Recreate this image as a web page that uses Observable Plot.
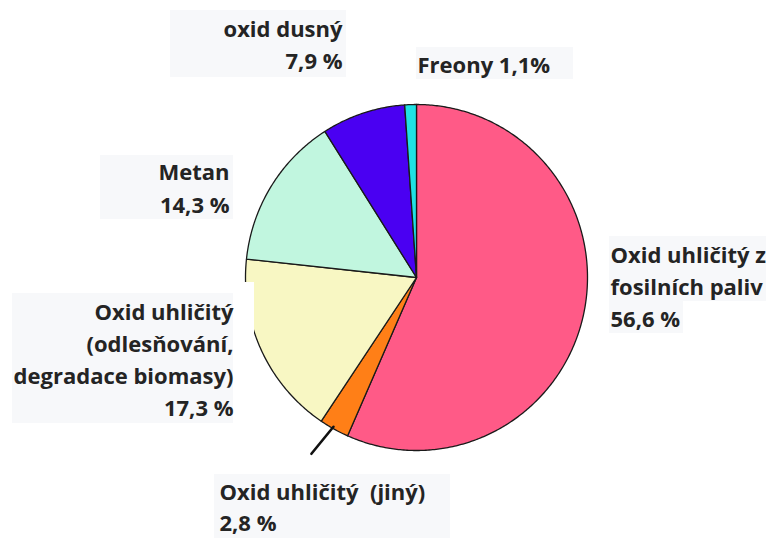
<!DOCTYPE html>
<html>
<head>
<meta charset="utf-8">
<script src="https://cdn.jsdelivr.net/npm/d3@7"></script>
<script src="https://cdn.jsdelivr.net/npm/@observablehq/plot@0.6"></script>
<style>
  html, body { margin: 0; padding: 0; background: #ffffff; }
  #chart svg { display: block; }
</style>
</head>
<body>
<div id="chart"></div>
<script>
// ---- data ----
const categories = [
  "Oxid uhličitý z fosilních paliv",
  "Oxid uhličitý (jiný)",
  "Oxid uhličitý (odlesňování, degradace biomasy)",
  "Metan",
  "oxid dusný",
  "Freony"
];
const shares = [56.6, 2.8, 17.3, 14.3, 7.9, 1.1];
const sliceColors = ["#ff5a87", "#ff7f17", "#f8f7c3", "#c1f6df", "#4a00f2", "#1fe2e4"];
const labelLines = [
  ["Oxid uhličitý z", "fosilních paliv", "56,6 %"],
  ["Oxid uhličitý  (jiný)", "2,8 %"],
  ["Oxid uhličitý", "(odlesňování,", "degradace biomasy)", "17,3 %"],
  ["Metan", "14,3 %"],
  ["oxid dusný", "7,9 %"],
  ["Freony 1,1%"]
];

// ---- layout (pixels) ----
const W = 766, H = 538;
const pie = {cx: 416, cy: 277, rx: 171, ry: 173};
const labelLayout = [
  {x: 610, y: 262, anchor: "start", gap: 32},
  {x: 219, y: 499, anchor: "start", gap: 31},
  {x: 233, y: 319, anchor: "end", gap: 32},
  {x: 229, y: 179, anchor: "end", gap: 33},
  {x: 342, y: 36, anchor: "end", gap: 32},
  {x: 417, y: 72, anchor: "start", gap: 32}
];
const labelBoxes = [
  {x1: 609, x2: 766, y1: 236, y2: 301},
  {x1: 609, x2: 683, y1: 301, y2: 333},
  {x1: 214, x2: 450, y1: 474, y2: 538},
  {x1: 12, x2: 233, y1: 293, y2: 423},
  {x1: 100, x2: 233, y1: 155, y2: 219},
  {x1: 170, x2: 346, y1: 10, y2: 77},
  {x1: 416, x2: 573, y1: 47, y2: 79}
];
const maskBox = [{x1: 238, x2: 254, y1: 282, y2: 335}];

// ---- geometry from data ----
const arcs = d3.pie().sort(null).startAngle(0).endAngle(2 * Math.PI)(shares);
const toXY = (a, k) => ({x: pie.cx + k * pie.rx * Math.sin(a), y: pie.cy - k * pie.ry * Math.cos(a)});
const slicePolys = arcs.map((arc, i) => {
  const pts = [{x: pie.cx, y: pie.cy}];
  const n = Math.max(2, Math.ceil((arc.endAngle - arc.startAngle) / 0.01));
  for (let j = 0; j <= n; j++) {
    const a = arc.startAngle + (arc.endAngle - arc.startAngle) * j / n;
    pts.push(toXY(a, 1));
  }
  return {color: sliceColors[i], pts};
});
// leader line for the small orange slice
const orange = arcs[1];
const midA = (orange.startAngle + orange.endAngle) / 2 + 0.01;
const leader = [toXY(midA, 0.99), toXY(midA + 0.03, 1.19)];

const textRows = [];
labelLines.forEach((lines, i) => {
  const L = labelLayout[i];
  lines.forEach((t, j) => textRows.push({x: L.x, y: L.y + j * L.gap, text: t, anchor: L.anchor}));
});

const font = {fontFamily: "'Open Sans', Lato, sans-serif", fontWeight: "bold", fontSize: 22, fill: "#242424"};

const chart = Plot.plot({
  width: W, height: H,
  margin: 0,
  x: {domain: [0, W], axis: null},
  y: {domain: [H, 0], axis: null},
  style: {background: "#ffffff", overflow: "visible"},
  marks: [
    ...slicePolys.map(s => Plot.line(s.pts, {x: "x", y: "y", fill: s.color, stroke: "#1a1a1a", strokeWidth: 1.3, curve: "linear-closed", strokeLinejoin: "round"})),
    Plot.line(leader, {x: "x", y: "y", stroke: "#111", strokeWidth: 2.6}),
    Plot.rect(maskBox, {x1: "x1", x2: "x2", y1: "y1", y2: "y2", fill: "#ffffff"}),
    Plot.rect(labelBoxes, {x1: "x1", x2: "x2", y1: "y1", y2: "y2", fill: "#f7f8fa"}),
    Plot.text(textRows.filter(d => d.anchor === "start"), {x: "x", y: "y", text: "text", textAnchor: "start", lineAnchor: "bottom", ...font}),
    Plot.text(textRows.filter(d => d.anchor === "end"), {x: "x", y: "y", text: "text", textAnchor: "end", lineAnchor: "bottom", ...font})
  ]
});
chart.querySelectorAll("text").forEach(t => { t.setAttribute("xml:space", "preserve"); t.style.whiteSpace = "pre"; });
document.getElementById("chart").appendChild(chart);
</script>
</body>
</html>
